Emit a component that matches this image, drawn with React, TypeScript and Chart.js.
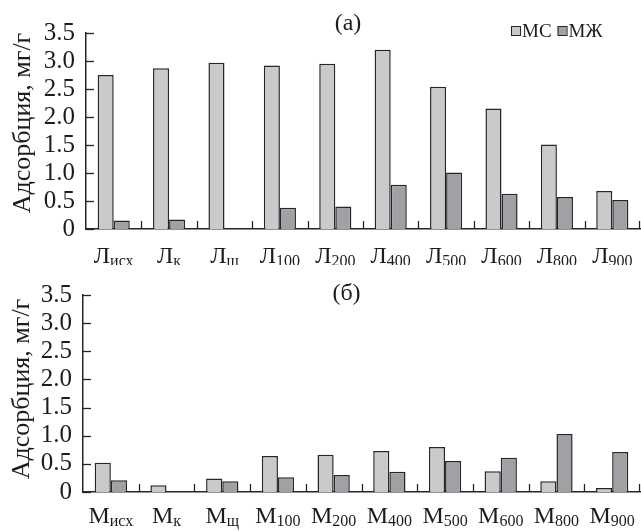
import React, { useEffect, useRef } from 'react';
import { Chart, registerables } from 'chart.js';

Chart.register(...registerables);

// ---- data ----
const CAT_SUBS = ['исх', 'к', 'щ', '100', '200', '400', '500', '600', '800', '900'];
const TOP_LETTER = 'Л';
const BOTTOM_LETTER = 'М';
const SERIES_NAMES = ['МС', 'МЖ'];
const TOP_MS = [2.75, 2.87, 2.97, 2.92, 2.95, 3.2, 2.54, 2.15, 1.51, 0.68];
const TOP_MZH = [0.15, 0.17, 0, 0.38, 0.4, 0.79, 1.01, 0.63, 0.57, 0.52];
const BOT_MS = [0.52, 0.12, 0.24, 0.64, 0.66, 0.73, 0.8, 0.37, 0.19, 0.07];
const BOT_MZH = [0.21, 0, 0.19, 0.26, 0.3, 0.36, 0.55, 0.61, 1.03, 0.71];
const Y_MIN = 0;
const Y_MAX = 3.5;
const Y_STEP = 0.5;
const Y_TITLE = 'Адсорбция, мг/г';

const LIGHT = '#c9cacc';
const DARK = '#a0a1a5';
const EDGE = '#262626';
const TEXT = '#1c1c1c';
const FONT = '"Liberation Serif", "DejaVu Serif", serif';

type Geo = {
  h: number;
  top: number;
  bottom: number;
  left: number;
  labelOff: number;
  titleY: number;
  yTitleX: number;
  yTitleY: number;
};

function makeDecor(letter: string, panelTitle: string, showLegend: boolean, g: Geo) {
  return {
    id: 'decor_' + letter,
    beforeDatasetsDraw(chart: any) {
      const ctx = chart.ctx;
      const area = chart.chartArea;
      const y = chart.scales.y;
      const x = chart.scales.x;
      ctx.save();
      ctx.strokeStyle = EDGE;
      ctx.lineWidth = 1.3;
      // inner y ticks
      y.ticks.forEach((t: any) => {
        const py = Math.round(y.getPixelForValue(t.value)) + 0.5;
        ctx.beginPath();
        ctx.moveTo(area.left, py);
        ctx.lineTo(area.left + 8, py);
        ctx.stroke();
      });
      // x separators
      const n = CAT_SUBS.length;
      const step = x.getPixelForValue(1) - x.getPixelForValue(0);
      for (let i = 0; i < n; i++) {
        let px = x.getPixelForValue(i) + step / 2;
        if (px > area.right - 1) px = area.right - 1.5;
        px = Math.round(px) + 0.5;
        ctx.beginPath();
        ctx.moveTo(px, area.bottom);
        ctx.lineTo(px, area.bottom - 8);
        ctx.stroke();
      }
      ctx.restore();
    },
    afterDraw(chart: any) {
      const ctx = chart.ctx;
      const area = chart.chartArea;
      const x = chart.scales.x;
      ctx.save();
      ctx.fillStyle = TEXT;
      ctx.textBaseline = 'alphabetic';
      // x labels with subscripts
      const mainFont = `24px ${FONT}`;
      const subFont = `16px ${FONT}`;
      CAT_SUBS.forEach((sub, i) => {
        ctx.font = mainFont;
        const wm = ctx.measureText(letter).width;
        ctx.font = subFont;
        const ws = ctx.measureText(sub).width;
        const cx = x.getPixelForValue(i);
        const x0 = cx - (wm + ws) / 2;
        const by = area.bottom + g.labelOff;
        ctx.font = mainFont;
        ctx.textAlign = 'left';
        ctx.fillText(letter, x0, by);
        ctx.font = subFont;
        ctx.fillText(sub, x0 + wm, by + 3);
      });
      // panel title
      ctx.font = `24px ${FONT}`;
      ctx.textAlign = 'center';
      ctx.textBaseline = 'middle';
      ctx.fillText(panelTitle, (area.left + area.right) / 2 - 15, g.titleY);
      // y title
      ctx.save();
      ctx.translate(g.yTitleX, g.yTitleY);
      ctx.rotate(-Math.PI / 2);
      ctx.font = `26px ${FONT}`;
      ctx.textAlign = 'center';
      ctx.textBaseline = 'middle';
      ctx.fillText(Y_TITLE, 0, 0);
      ctx.restore();
      // legend
      if (showLegend) {
        const ds = chart.data.datasets;
        ctx.font = `19px ${FONT}`;
        ctx.textAlign = 'left';
        ctx.textBaseline = 'middle';
        let lx = 511;
        const ly = 31;
        ds.forEach((d: any) => {
          ctx.fillStyle = d.backgroundColor;
          ctx.fillRect(lx, ly - 5, 9, 9);
          ctx.strokeStyle = EDGE;
          ctx.lineWidth = 1;
          ctx.strokeRect(lx + 0.5, ly - 4.5, 9, 9);
          ctx.fillStyle = TEXT;
          ctx.fillText(d.label, lx + 11, ly + 1);
          lx += 11 + ctx.measureText(d.label).width + 6;
        });
      }
      ctx.restore();
    },
  };
}

function Panel(props: {
  letter: string;
  ms: number[];
  mzh: number[];
  title: string;
  legend: boolean;
  g: Geo;
}) {
  const ref = useRef<HTMLCanvasElement | null>(null);
  useEffect(() => {
    if (!ref.current) return;
    const { letter, ms, mzh, title, legend, g } = props;
    const chart = new Chart(ref.current, {
      type: 'bar',
      data: {
        labels: CAT_SUBS.map((s) => letter + s),
        datasets: [
          {
            label: SERIES_NAMES[0],
            data: ms,
            backgroundColor: LIGHT,
            borderColor: EDGE,
            borderWidth: 1.5,
            borderSkipped: 'start',
            categoryPercentage: 0.58,
            barPercentage: 1,
          },
          {
            label: SERIES_NAMES[1],
            data: mzh,
            backgroundColor: DARK,
            borderColor: EDGE,
            borderWidth: 1.5,
            borderSkipped: 'start',
            categoryPercentage: 0.58,
            barPercentage: 1,
          },
        ],
      },
      options: {
        animation: false,
        responsive: false,
        maintainAspectRatio: false,
        events: [],
        layout: { padding: { top: g.top, right: 1, left: 0, bottom: 0 } },
        plugins: {
          legend: { display: false },
          tooltip: { enabled: false },
          title: { display: false },
        },
        scales: {
          x: {
            grid: { display: false, drawTicks: false },
            border: { display: true, color: EDGE, width: 1.5 },
            ticks: { display: false },
            afterFit: (s: any) => {
              s.height = g.h - g.bottom;
            },
          },
          y: {
            min: Y_MIN,
            max: Y_MAX,
            grid: { display: false, drawTicks: false },
            border: { display: true, color: EDGE, width: 1.5 },
            ticks: {
              stepSize: Y_STEP,
              autoSkip: false,
              color: TEXT,
              padding: 11,
              font: { family: FONT, size: 25 },
              callback: (v: any) => (Number(v) === 0 ? '0' : Number(v).toFixed(1)),
            },
            afterFit: (s: any) => {
              s.width = g.left;
            },
          },
        },
      } as any,
      plugins: [makeDecor(letter, title, legend, g)],
    });
    return () => chart.destroy();
  }, []);
  return <canvas ref={ref} width={641} height={props.g.h} style={{ display: 'block' }} />;
}

const TOP_GEO: Geo = {
  h: 265,
  top: 33,
  bottom: 229,
  left: 86,
  labelOff: 34,
  titleY: 24,
  yTitleX: 23,
  yTitleY: 123,
};

const BOT_GEO: Geo = {
  h: 266,
  top: 30,
  bottom: 227,
  left: 83,
  labelOff: 31,
  titleY: 29,
  yTitleX: 22,
  yTitleY: 124,
};

export default function App() {
  return (
    <div
      style={{
        position: 'fixed',
        left: 0,
        top: 0,
        width: 641,
        height: 531,
        background: '#fff',
        overflow: 'hidden',
      }}
    >
      <Panel letter={TOP_LETTER} ms={TOP_MS} mzh={TOP_MZH} title="(а)" legend={true} g={TOP_GEO} />
      <Panel letter={BOTTOM_LETTER} ms={BOT_MS} mzh={BOT_MZH} title="(б)" legend={false} g={BOT_GEO} />
    </div>
  );
}
